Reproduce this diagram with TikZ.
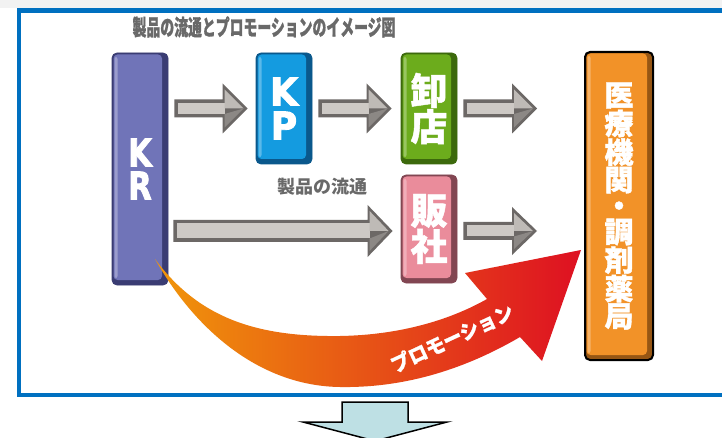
\documentclass[tikz,border=0pt]{standalone}
\usepackage{fontspec}
\usepackage{graphicx}
\usetikzlibrary{calc}
\newfontfamily\jp{Noto Sans CJK JP}
\newfontfamily\jpb{Noto Sans CJK JP}[BoldFeatures={FakeBold=1.2}]
\newfontfamily\latb{DejaVu Sans}[BoldFeatures={FakeBold=2.5}]
\definecolor{frameblue}{RGB}{0,112,192}
\definecolor{titlegray}{RGB}{105,105,105}
\definecolor{krmain}{RGB}{112,116,184}
\definecolor{krdark}{RGB}{58,60,115}
\definecolor{kpmain}{RGB}{20,155,224}
\definecolor{kpdark}{RGB}{10,88,140}
\definecolor{ormain}{RGB}{108,172,28}
\definecolor{ordark}{RGB}{60,105,12}
\definecolor{hsmain}{RGB}{234,140,155}
\definecolor{hsdark}{RGB}{130,70,82}
\definecolor{medmain}{RGB}{242,146,40}
\definecolor{meddark}{RGB}{150,86,20}
\definecolor{arrdark}{RGB}{108,104,102}
\definecolor{arrlight}{RGB}{205,201,197}
\definecolor{arrhead}{RGB}{190,186,182}
\definecolor{arrlow}{RGB}{140,136,133}
\definecolor{promoL}{RGB}{240,150,10}
\definecolor{promoM}{RGB}{232,96,22}
\definecolor{promoR}{RGB}{222,16,34}
\definecolor{downfill}{RGB}{190,224,228}

\newcommand\garrow[5]{%
  \fill[arrdark] let \p1=(#1), \p2=(#2) in
    (\x1,\y1+#3pt) -- (\x2-#5pt,\y1+#3pt) -- (\x2-#5pt,\y1+#4pt) -- (\x2,\y1)
    -- (\x2-#5pt,\y1-#4pt) -- (\x2-#5pt,\y1-#3pt) -- (\x1,\y1-#3pt) -- cycle;
  \fill[arrlight] let \p1=(#1), \p2=(#2) in
    (\x1+4pt,\y1+#3pt-3.5pt) -- (\x2-#5pt+2pt,\y1+#3pt-3.5pt) -- (\x2-#5pt+2pt,\y1-#3pt+3.5pt) -- (\x1+4pt,\y1-#3pt+3.5pt) -- cycle;
  \fill[arrhead] let \p1=(#1), \p2=(#2) in
    (\x2-#5pt+2pt,\y1+#4pt-6pt) -- (\x2-4pt,\y1) -- (\x2-#5pt+2pt,\y1) -- cycle;
  \fill[arrlow] let \p1=(#1), \p2=(#2) in
    (\x2-#5pt+2pt,\y1-#4pt+6pt) -- (\x2-4pt,\y1) -- (\x2-#5pt+2pt,\y1-#3pt+3.5pt) -- cycle;
}

\tikzset{
  bx/.style n args={2}{rectangle, rounded corners=5pt, inner sep=0pt, fill=#2,
    draw=#2, line width=0.8pt, text=white, align=center,
    path picture={
      \fill[#1, rounded corners=4pt]
        ([shift={(1.5pt,-1.5pt)}]path picture bounding box.north west) rectangle
        ([shift={(-6pt,5pt)}]path picture bounding box.south east);
      \fill[white, opacity=0.3, rounded corners=2pt]
        ([shift={(2.5pt,-4pt)}]path picture bounding box.north west) rectangle
        ([shift={(5.5pt,7pt)}]path picture bounding box.south west);
    }},
  graytext/.style={text=titlegray, font=\jp\bfseries\fontsize{18}{20}\selectfont, inner sep=0pt},
}

\begin{document}
\begin{tikzpicture}[x=1pt,y=-1pt]
\useasboundingbox (0,0) rectangle (722,438);
\clip (0,0) rectangle (722,438);
\fill[white] (0,0) rectangle (722,438);
\fill[black!5] (0,0) rectangle (722,8);

% frame
\draw[frameblue, line width=4.5pt] (19,10.5) rectangle (740,395);

% title
\node[graytext, font=\jpb\bfseries\fontsize{22}{24}\selectfont] (title) at (264,27)
  {\scalebox{0.63}[1]{製品の流通とプロモーションのイメージ図}};

% boxes
\node[bx={krmain}{krdark}, minimum width=56pt, minimum height=232pt,
      font=\latb\bfseries\fontsize{38}{33}\selectfont] (KR) at (140,169)
      {\scalebox{0.8}[1]{K}\\\scalebox{0.8}[1]{R}};
\node[bx={kpmain}{kpdark}, minimum width=56pt, minimum height=111pt,
      font=\latb\bfseries\fontsize{38}{34}\selectfont] (KP) at (284,108.5) {\scalebox{0.95}[1]{K}\\\scalebox{0.95}[1]{P}};
\node[bx={ormain}{ordark}, minimum width=56pt, minimum height=111pt,
      font=\jpb\bfseries\fontsize{37}{35}\selectfont] (OR) at (429,108.5) {卸\\店};
\node[bx={hsmain}{hsdark}, minimum width=56pt, minimum height=108pt,
      font=\jpb\bfseries\fontsize{37}{35}\selectfont] (HS) at (429,229) {販\\社};
\node[bx={medmain}{meddark}, draw=black, line width=2pt, minimum width=68pt, minimum height=308pt,
      font=\jpb\bfseries\fontsize{29}{26}\selectfont] (MED) at (619,206)
      {医\\療\\機\\関\\・\\調\\剤\\薬\\局};

\node[graytext] (flow) at (322,187) {製品の流通};

% gray arrows
\garrow{$(KR.east |- KP.center)+(6,0)$}{$(KP.west)+(-8,0)$}{9}{25}{25}
\garrow{$(KP.east)+(6,0)$}{$(OR.west)+(-9,0)$}{9}{25}{25}
\garrow{$(OR.east)+(6,0)$}{$(MED.west |- OR.east)+(-47,0)$}{9}{25}{25}
\garrow{$(KR.east |- HS.center)+(5,2)$}{$(HS.west)+(-8,2)$}{11}{26}{25}
\garrow{$(HS.east)+(6,2)$}{$(MED.west |- HS.east)+(-47,2)$}{9}{24}{25}

% promotion arrow
\shade[left color=promoL, middle color=promoM, right color=promoR]
  (155,259) .. controls (200,320) and (260,337) .. (340,336)
  .. controls (400,335) and (450,320) .. (487,299)
  -- (465,273) -- (581,250) -- (542,361) -- (520,337)
  .. controls (460,372) and (400,388) .. (340,387)
  .. controls (260,386) and (195,330) .. (155,259) -- cycle;
\node[text=white, font=\jpb\bfseries\fontsize{20}{22}\selectfont, rotate=25, inner sep=0pt]
  (promo) at (452,338) {\scalebox{0.95}[1]{プロモーション}};

% down arrow
\draw[fill=downfill, line width=1.5pt, line join=miter]
  (342,402) -- (408,402) -- (408,422) -- (447,422) -- (375,441) -- (303,422) -- (342,422) -- cycle;
\end{tikzpicture}
\end{document}
